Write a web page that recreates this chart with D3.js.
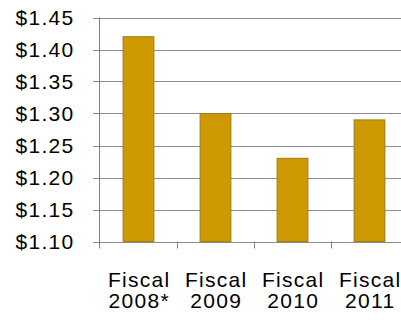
<!DOCTYPE html>
<html>
<head>
<meta charset="utf-8">
<script src="https://cdn.jsdelivr.net/npm/d3@7"></script>
<style>
  body { margin: 0; background: #fff; }
  text { font-family: "Liberation Sans", Arial, sans-serif; fill: #000; letter-spacing: 1.3px; }
</style>
</head>
<body>
<div id="chart"></div>
<script>
const categories = [["Fiscal", "2008*"], ["Fiscal", "2009"], ["Fiscal", "2010"], ["Fiscal", "2011"]];
const values = [1.42, 1.30, 1.23, 1.29];
const yTicks = [1.10, 1.15, 1.20, 1.25, 1.30, 1.35, 1.40, 1.45];

const width = 401, height = 320;
const plotLeft = 100, plotRight = 408, plotTop = 17.5, plotBottom = 241.5;

const svg = d3.select("#chart")
    .append("svg")
    .attr("width", width)
    .attr("height", height);

const x = d3.scaleBand()
    .domain(d3.range(categories.length))
    .range([plotLeft, plotRight])
    .paddingInner(0.6)
    .paddingOuter(0.3);

const y = d3.scaleLinear()
    .domain([1.10, 1.45])
    .range([plotBottom, plotTop]);

// gridlines
svg.selectAll("line.grid")
    .data(yTicks)
    .enter()
    .append("line")
    .attr("x1", plotLeft - 7)
    .attr("x2", width)
    .attr("y1", d => Math.round(y(d)) + 0.5)
    .attr("y2", d => Math.round(y(d)) + 0.5)
    .attr("stroke", "#8c8c8c")
    .attr("stroke-width", 1);

// y labels
svg.selectAll("text.ylab")
    .data(yTicks)
    .enter()
    .append("text")
    .attr("x", 74.5)
    .attr("y", d => y(d) + 7)
    .attr("text-anchor", "end")
    .style("font-size", "21px")
    .text(d => "$" + d.toFixed(2));

// bars
svg.selectAll("rect")
    .data(values)
    .enter()
    .append("rect")
    .attr("x", (d, i) => x(i))
    .attr("y", d => y(d))
    .attr("width", x.bandwidth())
    .attr("height", d => y(1.10) - y(d))
    .attr("fill", "#cc9900")
    .attr("stroke", "#9e7c1a")
    .attr("stroke-width", 1);

// y axis line
svg.append("line")
    .attr("x1", plotLeft - 0.5).attr("x2", plotLeft - 0.5)
    .attr("y1", plotTop).attr("y2", plotBottom + 7)
    .attr("stroke", "#808080");

// category ticks
const bandStep = (plotRight - plotLeft) / categories.length;
svg.selectAll("line.xtick")
    .data(d3.range(1, categories.length))
    .enter()
    .append("line")
    .attr("x1", i => Math.round(plotLeft + i * bandStep) + 0.5)
    .attr("x2", i => Math.round(plotLeft + i * bandStep) + 0.5)
    .attr("y1", plotBottom)
    .attr("y2", plotBottom + 7)
    .attr("stroke", "#808080");

// category labels
const lab = svg.selectAll("text.xlab")
    .data(categories)
    .enter()
    .append("text")
    .attr("text-anchor", "middle")
    .style("font-size", "21px");

lab.append("tspan")
    .attr("x", (d, i) => x(i) + x.bandwidth() / 2 + 0.7)
    .attr("y", 287)
    .text(d => d[0]);

lab.append("tspan")
    .attr("x", (d, i) => x(i) + x.bandwidth() / 2 + 0.7)
    .attr("y", 308)
    .text(d => d[1]);
</script>
</body>
</html>
